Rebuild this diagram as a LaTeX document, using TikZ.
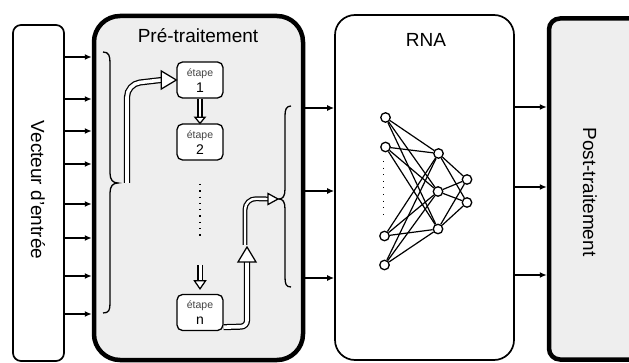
\documentclass[tikz,border=0pt]{standalone}
\usepackage{fontspec}
\setmainfont{Liberation Sans}
\usetikzlibrary{arrows.meta,calc}
\definecolor{panel}{HTML}{EEEEEE}
\definecolor{steptext}{HTML}{444444}
\tikzset{
  thinbox/.style={draw=black, line width=1.7pt, rounded corners=#1, fill=white, inner sep=0pt},
  thickbox/.style={draw=black, line width=4.5pt, rounded corners=#1, fill=panel, inner sep=0pt},
  stepbox/.style={draw=black, line width=1.3pt, rounded corners=5.5pt, fill=white,
    minimum width=46pt, minimum height=36pt, inner sep=0pt},
  title/.style={font=\fontsize{19}{21}\selectfont, inner sep=0pt},
  steplabel/.style={font=\fontsize{10.5}{11}\selectfont, text=steptext, inner sep=0pt},
  stepnum/.style={font=\fontsize{14}{15}\selectfont, inner sep=0pt},
  feed/.style={line width=1.3pt, -{Latex[length=7pt,width=6pt]}},
  hollow/.style={line width=1.25pt, double=white, double distance=#1, rounded corners=13pt},
  hollowhead/.style={draw=black, fill=white, line width=1.25pt, line join=miter},
  neuron/.style={circle, draw=black, line width=1.3pt, fill=white, minimum size=9.5pt, inner sep=0pt},
  synapse/.style={line width=1.2pt},
  brace/.style={line width=1.3pt},
  dots/.style={line width=1.3pt, dash pattern=on 1.3pt off 5pt}
}
\begin{document}
\begin{tikzpicture}[x=1pt,y=-1pt]
\useasboundingbox (0,0) rectangle (629,363);
\clip (0,0) rectangle (629,363);

% main blocks
\node[thinbox=8pt, minimum width=51pt, minimum height=336pt] (lb) at (38.5,193) {};
\node[thickbox=26pt, minimum width=209pt, minimum height=344pt] (pre) at (198.5,188) {};
\node[thinbox=20pt, minimum width=179pt, minimum height=345pt] (rna) at (424.5,187.5) {};
\node[thickbox=11pt, minimum width=92pt, minimum height=341pt] (post) at (595,189) {};

\node[title, rotate=-90] (lbt) at (38,190) {Vecteur d'entrée};
\node[title] (pret) at (198,36) {Pré-traitement};
\node[title] (rnat) at (426,40) {RNA};
\node[title, rotate=-90] (postt) at (590,192) {Post-traitement};

% input vector -> pre-processing
\foreach \y [count=\i] in {57,99,131,164,204,238,276,314} {
  \coordinate (in\i) at (80,\y);
  \draw[feed] (lb.east |- in\i) -- (pre.west |- in\i);
}
% pre-processing -> network
\foreach \y [count=\i] in {108,191,278} {
  \coordinate (mid\i) at (320,\y);
  \draw[feed] (pre.east |- mid\i) -- (rna.west |- mid\i);
}
% network -> post-processing
\foreach \y [count=\i] in {107,187,275} {
  \coordinate (out\i) at (530,\y);
  \draw[feed] (rna.east |- out\i) -- (post.west |- out\i);
}

% braces
\draw[brace] (103,52) .. controls (109,52) and (110,56) .. (110,63)
  -- (110,173) .. controls (110,180) and (113,183) .. (118,183)
  .. controls (113,183) and (110,186) .. (110,193)
  -- (110,303) .. controls (110,310) and (109,313) .. (103,313);
\draw[brace] (291,106) .. controls (286,106) and (285,110) .. (285,116)
  -- (285,189) .. controls (285,196) and (283,199) .. (279,199)
  .. controls (283,199) and (285,202) .. (285,209)
  -- (285,277) .. controls (285,284) and (286,287) .. (291,287);

% processing steps
\node[stepbox] (s1) at (200,80) {};
\node[steplabel] (s1a) at ($(s1.center)+(0,-6.5)$) {étape};
\node[stepnum] (s1b) at ($(s1.center)+(0,8)$) {1};
\node[stepbox] (s2) at (200,142) {};
\node[steplabel] (s2a) at ($(s2.center)+(0,-6.5)$) {étape};
\node[stepnum] (s2b) at ($(s2.center)+(0,8)$) {2};
\node[stepbox] (sn) at (200,312.5) {};
\node[steplabel] (sna) at ($(sn.center)+(0,-6.5)$) {étape};
\node[stepnum] (snb) at ($(sn.center)+(0,8)$) {n};

\draw[dots] (200,184) -- (200,238);

% hollow arrows
\coordinate (bt) at (127,183);
\draw[hollow=3.6pt] (bt) -- (127,84) -- ($(s1.west)+(-15,0)$);
\filldraw[hollowhead] ($(s1.west)+(-15,-9)$) -- (s1.west) -- ($(s1.west)+(-15,9)$) -- cycle;

\draw[hollow=2.6pt] (s1.south) -- ($(s2.north)+(0,-6)$);
\filldraw[hollowhead] ($(s2.north)+(-5,-6)$) -- (s2.north) -- ($(s2.north)+(5,-6)$) -- cycle;

\coordinate (dn) at (200,265);
\draw[hollow=3pt] (dn) -- ($(sn.north)+(0,-13)$);
\filldraw[hollowhead] ($(sn.north)+(-5.5,-13)$) -- ($(sn.north)+(0,-5)$) -- ($(sn.north)+(5.5,-13)$) -- cycle;

\coordinate (up) at (247,247);
\draw[hollow=3.6pt, rounded corners=6pt] ($(sn.south east)+(0,-4)$) -- (247,326.5) -- ($(up)+(0,15)$);
\filldraw[hollowhead] ($(up)+(-9,15)$) -- (up) -- ($(up)+(9,15)$) -- cycle;

\coordinate (rb) at (279,199);
\draw[hollow=2.4pt, rounded corners=11pt] (245,245) -- (245,198.5) -- ($(rb)+(-11,0)$);
\filldraw[hollowhead] ($(rb)+(-11,-5.5)$) -- ($(rb)+(-1,0)$) -- ($(rb)+(-11,5.5)$) -- cycle;

% neural network
\node[neuron] (i1) at (385.5,117.5) {};
\node[neuron] (i2) at (385.5,147) {};
\node[neuron] (i3) at (384.5,236) {};
\node[neuron] (i4) at (384.5,265) {};
\node[neuron] (h1) at (438.5,153.5) {};
\node[neuron] (h2) at (438,191.5) {};
\node[neuron] (h3) at (438,229) {};
\node[neuron] (o1) at (467,179.5) {};
\node[neuron] (o2) at (467,202.5) {};
\foreach \a in {i1,i2,i3,i4}
  \foreach \b in {h1,h2,h3}
    \draw[synapse] (\a) -- (\b);
\foreach \a in {h1,h2,h3}
  \foreach \b in {o1,o2}
    \draw[synapse] (\a) -- (\b);
\draw[dots, line width=1.1pt, dash pattern=on 1.1pt off 5.5pt] (383.5,161) -- (383.5,219);
\end{tikzpicture}
\end{document}
